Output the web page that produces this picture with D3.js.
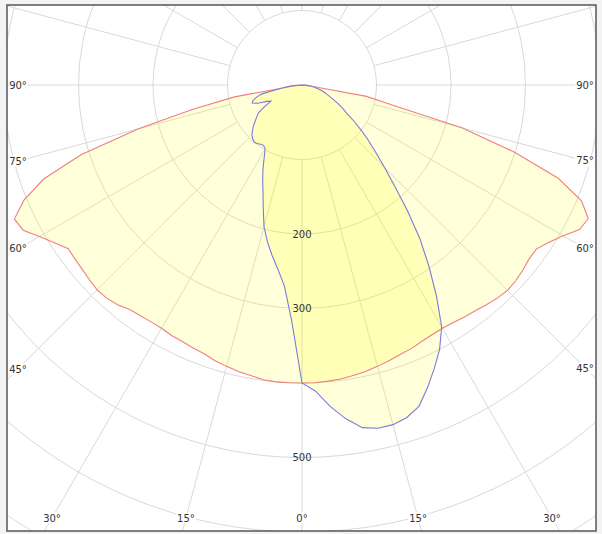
<!DOCTYPE html>
<html>
<head>
<meta charset="utf-8">
<script src="https://cdn.jsdelivr.net/npm/d3@7"></script>
<style>
  body { margin: 0; background: #f3f3f3; }
  svg { display: block; }
</style>
</head>
<body>
<svg width="602" height="534"></svg>
<script>
// polar light distribution diagram (cd), 0 deg pointing down

// angles from nadir, negative = left side
const angles = d3.range(-90, 90.1, 2.5);

// red curve (C0 - C180 plane)
const redValues = [
  0, 0, 0, 15, 92, 150, 228, 311, 369, 404, 426, 422, 407, 394, 383, 384, 385, 387,
  389, 388, 385, 380, 378, 377, 377, 379, 380, 382, 384, 388, 391, 394, 396, 399, 400, 400,
  400,
  400, 399, 398, 396, 394, 391, 388, 385, 383, 380, 378, 377, 378, 380, 382, 385, 388,
  390, 389, 387, 384, 384, 393, 405, 420, 424, 406, 366, 298, 222, 125, 88, 15, 0, 0, 0
];

// blue curve (C90 - C270 plane)
const blueValues = [
  0, 9, 16, 23, 33, 55, 63, 69, 71, 64, 52, 47, 58, 69, 74, 79, 85, 90, 95, 98,
  100, 99, 97, 96, 99, 110, 124, 138, 153, 173, 197, 215, 232, 249, 271, 317,
  400,
  411, 433, 452, 467, 472, 472, 468, 459, 440, 420, 400, 375, 336, 297, 260, 220,
  184, 157, 135, 117, 101, 86, 72, 63, 55, 47, 40, 35, 30, 26, 21, 17, 13, 9, 5, 0
];

// grid
const circleLevels = [100, 200, 300, 400, 500, 600, 700, 800, 900];
const circleLabels = [200, 300, 500];
const spokeAngles = d3.range(0, 360, 15);
const angleLabels = [0, 15, 30, 45, 60, 75, 90];

const svg = d3.select("svg");

// center of the diagram
const cx = 302;
const cy = 85;

const r = d3.scaleLinear().domain([0, 100]).range([0, 74.5]);
// lineRadial measures from 12 o'clock, so 0 deg (down) maps to PI
const ang = d3.scaleLinear().domain([0, 180]).range([Math.PI, 0]);

const px = (deg, v) => cx + r(v) * Math.sin((deg * Math.PI) / 180);
const py = (deg, v) => cy + r(v) * Math.cos((deg * Math.PI) / 180);

// frame
const fx0 = 7, fy0 = 5, fx1 = 596, fy1 = 531;
svg.append("rect")
  .attr("x", fx0).attr("y", fy0)
  .attr("width", fx1 - fx0).attr("height", fy1 - fy0)
  .attr("fill", "#fff");

svg.append("clipPath").attr("id", "plotclip")
  .append("rect")
  .attr("x", fx0).attr("y", fy0)
  .attr("width", fx1 - fx0).attr("height", fy1 - fy0);

const plot = svg.append("g").attr("clip-path", "url(#plotclip)");

//grid circles
plot.selectAll(".ring")
  .data(circleLevels)
  .join("circle")
  .attr("class", "ring")
  .attr("cx", cx).attr("cy", cy)
  .attr("r", (d) => r(d))
  .attr("fill", "none")
  .attr("stroke", "#d9d9d9")
  .attr("stroke-width", 1);

//spokes start at the inner circle
plot.selectAll(".spoke")
  .data(spokeAngles)
  .join("line")
  .attr("class", "spoke")
  .attr("x1", (d) => px(d, circleLevels[0]))
  .attr("y1", (d) => py(d, circleLevels[0]))
  .attr("x2", (d) => px(d, 1000))
  .attr("y2", (d) => py(d, 1000))
  .attr("stroke", "#d9d9d9")
  .attr("stroke-width", 1);

// curves
const radial = d3.lineRadial()
  .angle((d) => ang(d[0]))
  .radius((d) => r(d[1]))
  .curve(d3.curveLinearClosed);

const redPts = angles.map((a, i) => [a, redValues[i]]);
const bluePts = angles.map((a, i) => [a, blueValues[i]]);

const curves = plot.append("g").attr("transform", `translate(${cx},${cy})`);

curves.append("path")
  .attr("d", radial(redPts))
  .attr("fill", "#ffff00")
  .attr("fill-opacity", 0.15);
curves.append("path")
  .attr("d", radial(bluePts))
  .attr("fill", "#ffff00")
  .attr("fill-opacity", 0.15);

curves.append("path")
  .attr("d", radial(redPts))
  .attr("fill", "none")
  .attr("stroke", "#f07e7e")
  .attr("stroke-width", 1.1);
curves.append("path")
  .attr("d", radial(bluePts))
  .attr("fill", "none")
  .attr("stroke", "#7b7bdc")
  .attr("stroke-width", 1.1);

// radius labels
plot.selectAll(".rlabel")
  .data(circleLabels)
  .join("text")
  .attr("class", "rlabel")
  .attr("x", cx)
  .attr("y", (d) => cy + r(d))
  .attr("dy", "0.35em")
  .attr("text-anchor", "middle")
  .attr("font-family", "DejaVu Sans, sans-serif")
  .attr("font-size", 10)
  .attr("fill", "#333")
  .text((d) => d);

// angle labels sit where each spoke meets an inset box
const lx0 = 18, lx1 = 585, ly1 = 518;
const labelPos = (deg) => {
  const t = (deg * Math.PI) / 180;
  const dx = Math.sin(t), dy = Math.cos(t);
  let k = Infinity;
  if (dx > 1e-9) k = Math.min(k, (lx1 - cx) / dx);
  if (dx < -1e-9) k = Math.min(k, (lx0 - cx) / dx);
  if (dy > 1e-9) k = Math.min(k, (ly1 - cy) / dy);
  return [cx + k * dx, cy + k * dy];
};

const labelData = [];
angleLabels.forEach((a) => {
  labelData.push({ a: a, pos: labelPos(a) });
  if (a !== 0) labelData.push({ a: a, pos: labelPos(-a) });
});

const alabels = svg.selectAll(".alabel")
  .data(labelData)
  .join("g")
  .attr("class", "alabel")
  .attr("transform", (d) => `translate(${d.pos[0]},${d.pos[1]})`);

alabels.append("text")
  .attr("text-anchor", "middle")
  .attr("dy", "0.35em")
  .attr("font-family", "DejaVu Sans, sans-serif")
  .attr("font-size", 10)
  .attr("fill", "#333")
  .text((d) => d.a + "°");

alabels.each(function () {
  const g = d3.select(this);
  const b = g.select("text").node().getBBox();
  g.insert("rect", "text")
    .attr("x", b.x - 1).attr("y", b.y)
    .attr("width", b.width + 2).attr("height", b.height)
    .attr("fill", "#fff");
});

// frame border on top
svg.append("rect")
  .attr("x", fx0).attr("y", fy0)
  .attr("width", fx1 - fx0).attr("height", fy1 - fy0)
  .attr("fill", "none")
  .attr("stroke", "#606060")
  .attr("stroke-width", 1.6);
</script>
</body>
</html>
